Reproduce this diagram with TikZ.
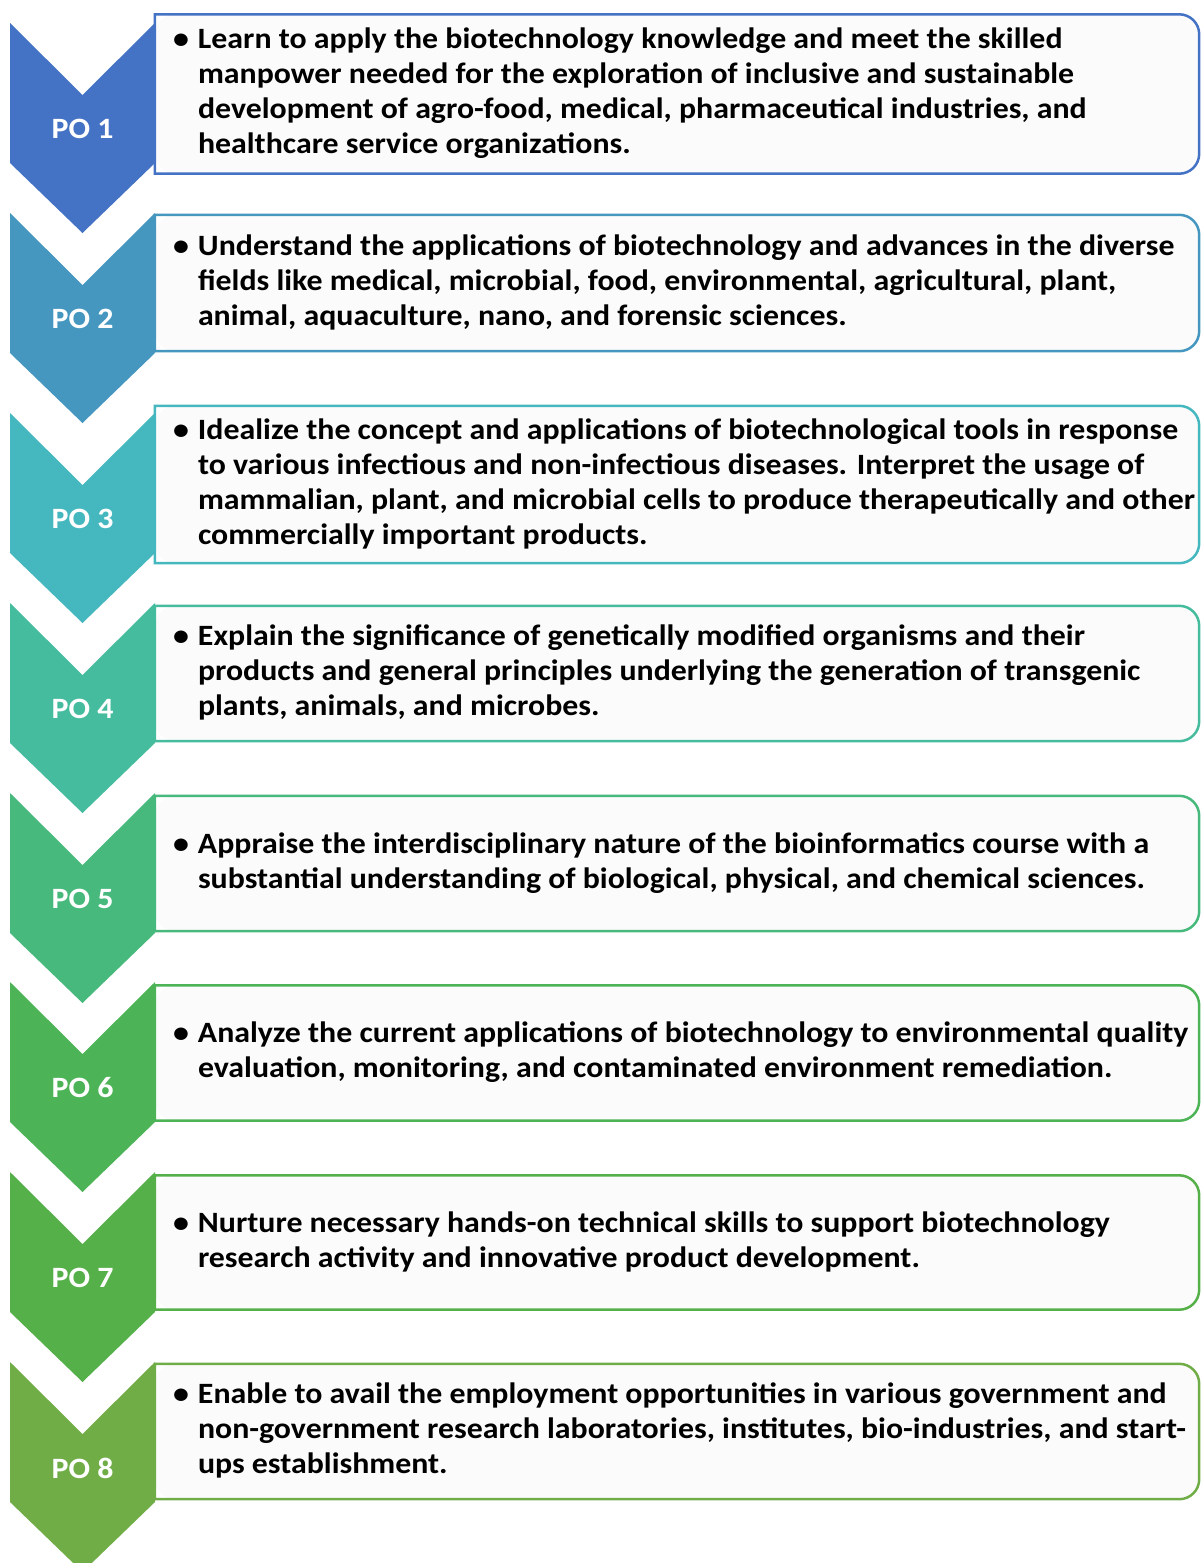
\documentclass[tikz,border=0pt]{standalone}
\usepackage{fontspec}
\setmainfont{Carlito}[FakeStretch=1.08]

\definecolor{poA}{HTML}{4472C4}
\definecolor{poB}{HTML}{4597C0}
\definecolor{poC}{HTML}{45B7BE}
\definecolor{poD}{HTML}{45BC9E}
\definecolor{poE}{HTML}{48B97C}
\definecolor{poF}{HTML}{4CB457}
\definecolor{poG}{HTML}{56B04A}
\definecolor{poH}{HTML}{70AD47}
\definecolor{boxfill}{HTML}{FBFBFB}

\newcommand{\potext}[1]{\makebox[1000pt][l]{\begin{tabular}{@{}p{21pt}@{}l@{}}\hspace*{-4pt}\textbullet & #1\end{tabular}}}

\begin{document}
\begin{tikzpicture}[x=1pt, y=-1pt,
    po/.style={text=white, font=\fontsize{29.5}{35}\selectfont\bfseries},
    obj/.style={fill=boxfill, rounded corners=20pt, minimum width=1044pt, inner xsep=21pt, inner ysep=0pt,
        font=\fontsize{29.5}{35}\selectfont\bfseries},
    boxline/.style={line width=2.5pt}]
\useasboundingbox (0,0) rectangle (1200,1563);

\fill [poA] (10,23)   -- ++(72.5,72) -- ++(72.5,-72) -- ++(0,140) -- ++(-72.5,70) -- ++(-72.5,-70) -- cycle;
\fill [poB] (10,213)  -- ++(72.5,72) -- ++(72.5,-72) -- ++(0,140) -- ++(-72.5,70) -- ++(-72.5,-70) -- cycle;
\fill [poC] (10,413)  -- ++(72.5,72) -- ++(72.5,-72) -- ++(0,140) -- ++(-72.5,70) -- ++(-72.5,-70) -- cycle;
\fill [poD] (10,603)  -- ++(72.5,72) -- ++(72.5,-72) -- ++(0,140) -- ++(-72.5,70) -- ++(-72.5,-70) -- cycle;
\fill [poE] (10,793)  -- ++(72.5,72) -- ++(72.5,-72) -- ++(0,140) -- ++(-72.5,70) -- ++(-72.5,-70) -- cycle;
\fill [poF] (10,982)  -- ++(72.5,72) -- ++(72.5,-72) -- ++(0,140) -- ++(-72.5,70) -- ++(-72.5,-70) -- cycle;
\fill [poG] (10,1172) -- ++(72.5,72) -- ++(72.5,-72) -- ++(0,140) -- ++(-72.5,70) -- ++(-72.5,-70) -- cycle;
\fill [poH] (10,1362) -- ++(72.5,72) -- ++(72.5,-72) -- ++(0,140) -- ++(-72.5,70) -- ++(-72.5,-70) -- cycle;

\node [po] (po1) at (82.5,129)  {PO 1};
\node [po] (po2) at (82.5,319)  {PO 2};
\node [po] (po3) at (82.5,519)  {PO 3};
\node [po] (po4) at (82.5,709)  {PO 4};
\node [po] (po5) at (82.5,899)  {PO 5};
\node [po] (po6) at (82.5,1088) {PO 6};
\node [po] (po7) at (82.5,1278) {PO 7};
\node [po] (po8) at (82.5,1468) {PO 8};

\node [obj, minimum height=159pt] (obj1) at (677,94) {\potext{Learn to apply the biotechnology knowledge and meet the skilled\\
  & manpower needed for the exploration of inclusive and sustainable\\
  & development of agro-food, medical, pharmaceutical industries, and\\
  & healthcare service organizations.}};
\node [obj, minimum height=136pt] (obj2) at (677,283) {\potext{Understand the applications of biotechnology and advances in the diverse\\
  & fields like medical, microbial, food, environmental, agricultural, plant,\\
  & animal, aquaculture, nano, and forensic sciences.}};
\node [obj, minimum height=157pt] (obj3) at (677,484.5) {\potext{Idealize the concept and applications of biotechnological tools in response\\
  & to various infectious and non-infectious diseases. Interpret the usage of\\
  & mammalian, plant, and microbial cells to produce therapeutically and other\\
  & commercially important products.}};
\node [obj, minimum height=135pt] (obj4) at (677,673.5) {\potext{Explain the significance of genetically modified organisms and their\\
  & products and general principles underlying the generation of transgenic\\
  & plants, animals, and microbes.}};
\node [obj, minimum height=135pt] (obj5) at (677,863.5) {\potext{Appraise the interdisciplinary nature of the bioinformatics course with a\\
  & substantial understanding of biological, physical, and chemical sciences.}};
\node [obj, minimum height=135pt] (obj6) at (677,1053) {\potext{Analyze the current applications of biotechnology to environmental quality\\
  & evaluation, monitoring, and contaminated environment remediation.}};
\node [obj, minimum height=134pt] (obj7) at (677,1242.5) {\potext{Nurture necessary hands-on technical skills to support biotechnology\\
  & research activity and innovative product development.}};
\node [obj, minimum height=135pt] (obj8) at (677,1431.5) {\potext{Enable to avail the employment opportunities in various government and\\
  & non-government research laboratories, institutes, bio-industries, and start-\\
  & ups establishment.}};

\draw [boxline, poA] (obj1.north) [rounded corners=20pt] -- (obj1.north east) -- (obj1.south east) -- (obj1.south) [sharp corners] -- (obj1.south west) -- (obj1.north west) -- cycle;
\draw [boxline, poB] (obj2.north) [rounded corners=20pt] -- (obj2.north east) -- (obj2.south east) -- (obj2.south) [sharp corners] -- (obj2.south west) -- (obj2.north west) -- cycle;
\draw [boxline, poC] (obj3.north) [rounded corners=20pt] -- (obj3.north east) -- (obj3.south east) -- (obj3.south) [sharp corners] -- (obj3.south west) -- (obj3.north west) -- cycle;
\draw [boxline, poD] (obj4.north) [rounded corners=20pt] -- (obj4.north east) -- (obj4.south east) -- (obj4.south) [sharp corners] -- (obj4.south west) -- (obj4.north west) -- cycle;
\draw [boxline, poE] (obj5.north) [rounded corners=20pt] -- (obj5.north east) -- (obj5.south east) -- (obj5.south) [sharp corners] -- (obj5.south west) -- (obj5.north west) -- cycle;
\draw [boxline, poF] (obj6.north) [rounded corners=20pt] -- (obj6.north east) -- (obj6.south east) -- (obj6.south) [sharp corners] -- (obj6.south west) -- (obj6.north west) -- cycle;
\draw [boxline, poG] (obj7.north) [rounded corners=20pt] -- (obj7.north east) -- (obj7.south east) -- (obj7.south) [sharp corners] -- (obj7.south west) -- (obj7.north west) -- cycle;
\draw [boxline, poH] (obj8.north) [rounded corners=20pt] -- (obj8.north east) -- (obj8.south east) -- (obj8.south) [sharp corners] -- (obj8.south west) -- (obj8.north west) -- cycle;
\end{tikzpicture}
\end{document}
